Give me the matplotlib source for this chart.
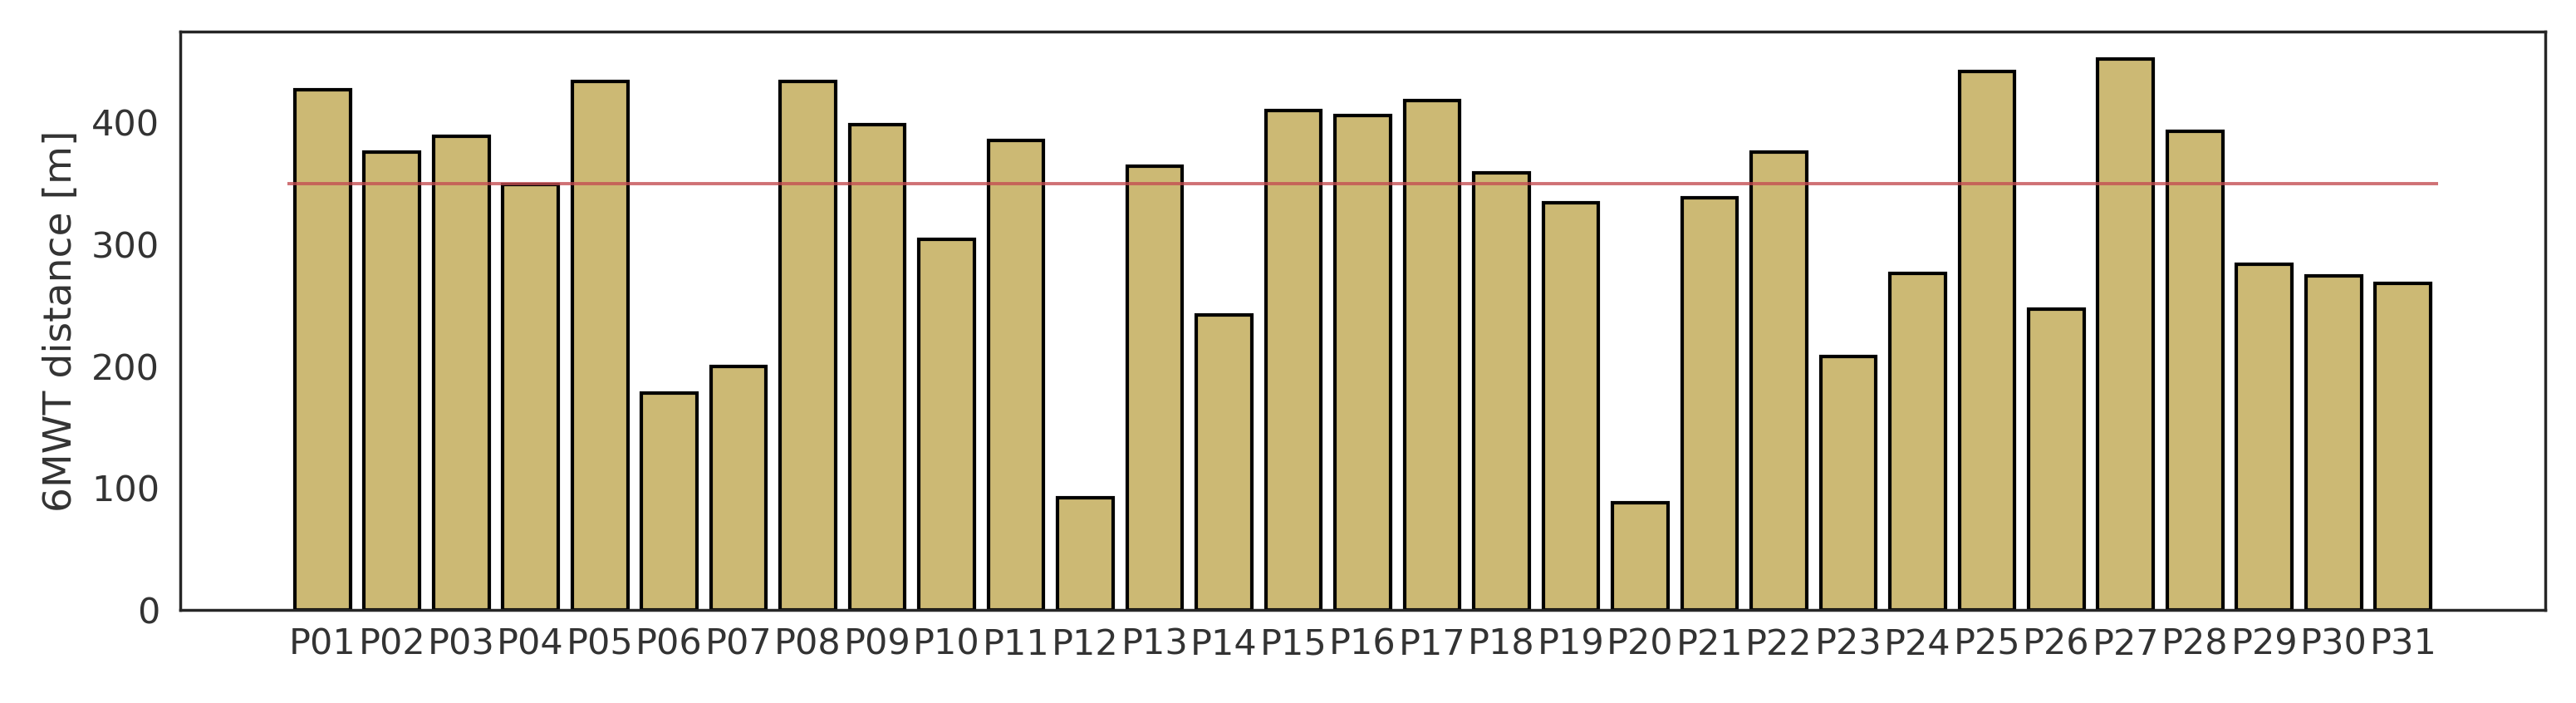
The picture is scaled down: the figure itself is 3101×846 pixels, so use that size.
import matplotlib
matplotlib.use("Agg")
import matplotlib.pyplot as plt

participants = [f"P{i:02d}" for i in range(1, 32)]
distances = [427, 376, 389, 349, 434, 178, 200, 434, 398, 304,
             385, 92, 364, 242, 410, 406, 418, 359, 334, 88,
             338, 376, 208, 276, 442, 247, 452, 393, 284, 274, 268]
threshold = 350
ylabel = "6MWT distance [m]"

bar_color = "#CCB974"
line_color = "#C44E52"
text_color = "#333333"

plt.rcParams["font.family"] = ["DejaVu Sans"]

fig = plt.figure(figsize=(3101 / 200, 846 / 200), dpi=200)
ax = fig.add_axes([217 / 3101, 1 - 734 / 846, (3064 - 217) / 3101, (734 - 38) / 846])

x = list(range(len(participants)))
ax.bar(x, distances, width=0.8, color=bar_color, edgecolor="black", linewidth=1.5, zorder=2)
ax.hlines(threshold, -0.5, len(participants) - 0.5, color=line_color, alpha=0.8, linewidth=1.4, zorder=3)

ax.set_xticks(x)
ax.set_xticklabels(participants)
ax.set_ylabel(ylabel, fontsize=17, color=text_color, labelpad=5)
ax.tick_params(axis="both", length=0, labelsize=15.5, labelcolor=text_color)
ax.tick_params(axis="x", pad=7.5)
ax.tick_params(axis="y", pad=9)
for s in ax.spines.values():
    s.set_color("#262626")
    s.set_linewidth(1.25)

fig.savefig("out.png", dpi=200)
